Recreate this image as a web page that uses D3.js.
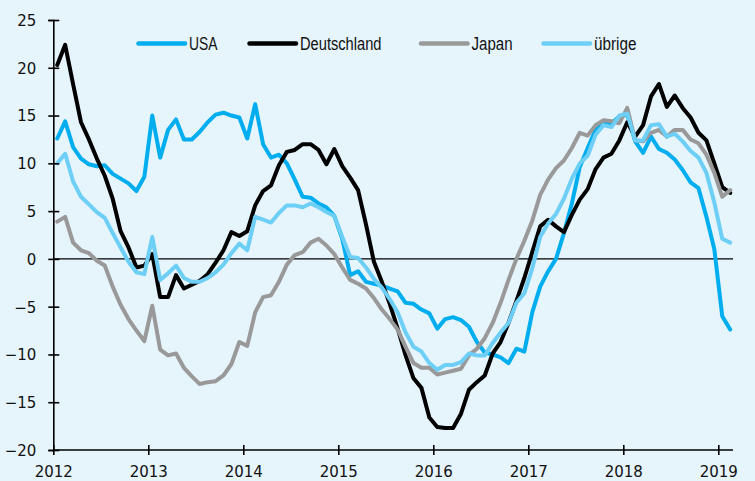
<!DOCTYPE html>
<html>
<head>
<meta charset="utf-8">
<script src="https://cdn.jsdelivr.net/npm/d3@7"></script>
<style>
  html, body { margin: 0; padding: 0; background: #e6f4fc; }
  svg { display: block; }
  .tick text { font-family: "DejaVu Sans", sans-serif; font-size: 15px; fill: #111; }
  .legend text { font-family: "Liberation Sans", Arial, sans-serif; font-size: 17.5px; fill: #111; }
</style>
</head>
<body>
<script>
// Monthly data, Jan 2012 .. Feb 2019 (86 months)
const startYear = 2012;
const seriesNames = ["USA", "Deutschland", "Japan", "übrige"];
const usa = [12.6,14.4,11.7,10.5,9.9,9.7,9.8,8.9,8.4,7.9,7.1,8.6,
  15.0,10.6,13.5,14.6,12.5,12.5,13.3,14.3,15.1,15.3,15.0,14.8,
  12.6,16.2,12.0,10.6,10.9,10.0,8.3,6.5,6.4,5.8,5.4,4.5,
  2.1,-1.7,-1.3,-2.4,-2.6,-2.8,-3.1,-3.4,-4.6,-4.7,-5.3,-5.7,
  -7.3,-6.3,-6.1,-6.4,-7.1,-8.7,-9.8,-10.0,-10.3,-10.9,-9.4,-9.7,
  -5.6,-2.9,-1.3,0.0,2.7,5.8,9.6,11.6,13.5,14.2,14.2,14.9,
  15.1,12.3,11.1,12.8,11.5,11.1,10.4,9.3,8.0,7.4,4.4,1.0,
  -6.0,-7.4];
const deutschland = [20.3,22.4,18.3,14.3,12.5,10.5,8.7,6.3,2.9,1.2,-0.9,-0.7,
  0.5,-4.0,-4.0,-1.7,-3.1,-2.7,-2.3,-1.6,-0.4,0.9,2.8,2.4,
  2.9,5.6,7.1,7.7,9.8,11.2,11.4,12.0,12.0,11.4,9.9,11.5,
  9.7,8.5,7.2,3.6,-0.3,-2.4,-4.7,-7.3,-10.1,-12.5,-13.5,-16.6,
  -17.6,-17.7,-17.7,-16.2,-13.7,-12.9,-12.2,-9.9,-8.7,-6.7,-4.4,-2.0,
  0.7,3.4,4.1,3.4,2.8,4.6,6.2,7.3,9.4,10.6,11.0,12.4,
  14.3,12.8,14.0,17.0,18.3,15.9,17.1,15.8,14.8,13.2,12.4,10.0,
  7.5,6.9];
const japan = [3.9,4.4,1.7,0.9,0.6,-0.2,-0.7,-2.9,-4.8,-6.3,-7.5,-8.6,
  -4.9,-9.5,-10.1,-9.9,-11.4,-12.3,-13.1,-12.9,-12.8,-12.2,-11.0,-8.7,
  -9.1,-5.6,-4.0,-3.8,-2.4,-0.6,0.4,0.7,1.7,2.1,1.4,0.5,
  -0.9,-2.2,-2.6,-3.1,-4.1,-5.3,-6.3,-7.4,-9.2,-10.9,-11.4,-11.4,
  -12.1,-11.9,-11.7,-11.5,-10.1,-9.4,-8.3,-6.7,-4.6,-2.2,0.0,1.9,
  4.0,6.7,8.3,9.5,10.3,11.6,13.2,12.9,14.0,14.5,14.4,14.2,
  15.8,12.4,12.3,13.2,13.5,12.8,13.5,13.5,12.5,12.1,10.9,9.0,
  6.5,7.2];
const uebrige = [10.0,11.0,8.1,6.5,5.7,4.9,4.3,2.7,1.2,-0.3,-1.4,-1.6,
  2.3,-2.2,-1.5,-0.7,-2.0,-2.4,-2.4,-2.0,-1.4,-0.6,0.6,1.6,
  0.9,4.4,4.1,3.8,4.8,5.6,5.6,5.4,5.8,5.4,4.9,4.5,
  2.3,0.2,0.1,-0.9,-2.1,-3.0,-4.2,-5.6,-7.7,-9.2,-9.7,-10.9,
  -11.6,-11.1,-11.1,-10.8,-9.9,-10.1,-10.1,-8.8,-7.7,-6.7,-4.6,-3.6,
  -1.0,2.3,3.7,4.7,6.3,8.4,10.0,10.8,13.0,14.0,13.8,15.0,
  15.2,12.4,12.4,14.0,14.1,12.8,13.1,12.3,11.3,10.6,9.0,5.9,
  2.1,1.7];
const yearTicks = [2012, 2013, 2014, 2015, 2016, 2017, 2018, 2019];
const valueTicks = [-20, -15, -10, -5, 0, 5, 10, 15, 20, 25];

const colors = {"USA": "#00aeef", "Deutschland": "#000000", "Japan": "#999999", "übrige": "#6dcff6"};
const dataBySeries = {"USA": usa, "Deutschland": deutschland, "Japan": japan, "übrige": uebrige};

const W = 755, H = 481;
const svg = d3.select("body").append("svg").attr("width", W).attr("height", H);
svg.append("rect").attr("width", W).attr("height", H).attr("fill", "#e6f4fc");

const x0 = 53.3, pxPerYear = 95;
const xEndYear = 2019.155;
const x = d3.scaleLinear().domain([2012, xEndYear]).range([x0, x0 + pxPerYear * (xEndYear - 2012)]);
const y = d3.scaleLinear().domain([-20, 25]).range([450, 20]);

// zero line
svg.append("line").attr("x1", x(2012)).attr("x2", x(xEndYear))
  .attr("y1", y(0)).attr("y2", y(0)).attr("stroke", "#000").attr("stroke-width", 1.2);

// lines
const line = d3.line()
  .x((d, i) => x(startYear + (i + 0.5) / 12))
  .y(d => y(d))
  .curve(d3.curveLinear);

["USA", "Deutschland", "Japan", "übrige"].forEach(name => {
  svg.append("path")
    .datum(dataBySeries[name])
    .attr("fill", "none")
    .attr("stroke", colors[name])
    .attr("stroke-width", 4)
    .attr("stroke-linejoin", "round")
    .attr("stroke-linecap", "round")
    .attr("d", line);
});

// axes
const yAxis = d3.axisLeft(y).tickValues(valueTicks).tickSize(5).tickPadding(12).tickFormat(d3.format("d"));
const gy = svg.append("g").attr("transform", `translate(${x(2012)},0)`).call(yAxis);
gy.select(".domain").attr("stroke", "#000").attr("stroke-width", 1.6);
gy.selectAll(".tick line").attr("x1", 6).attr("x2", -5).attr("stroke", "#000").attr("stroke-width", 1.6);
gy.selectAll(".tick text").attr("x", -17).attr("dy", "0.36em");

const xAxis = d3.axisBottom(x).tickValues(yearTicks).tickSize(5).tickFormat(d3.format("d"));
const gx = svg.append("g").attr("transform", `translate(0,${y(-20)})`).call(xAxis);
gx.select(".domain").attr("d", `M${x(2012)},0H${x(xEndYear)}`).attr("stroke", "#000").attr("stroke-width", 1.6);
gx.selectAll(".tick line").attr("y1", -5).attr("y2", 5).attr("stroke", "#000").attr("stroke-width", 1.6);
gx.selectAll(".tick text").attr("y", 16).attr("dy", "0.71em");

// legend
const legendPos = [
  {name: "USA", x1: 138.5, x2: 185, w: 28.5},
  {name: "Deutschland", x1: 249.5, x2: 296, w: 81.5},
  {name: "Japan", x1: 421, x2: 467.5, w: 41},
  {name: "übrige", x1: 543.5, x2: 590, w: 42.5}
];
const lg = svg.append("g").attr("class", "legend");
legendPos.forEach(p => {
  lg.append("line").attr("x1", p.x1).attr("x2", p.x2).attr("y1", 43.5).attr("y2", 43.5)
    .attr("stroke", colors[p.name]).attr("stroke-width", 4.5).attr("stroke-linecap", "round");
  lg.append("text").attr("x", p.x2 + 4).attr("y", 49.5)
    .attr("textLength", p.w).attr("lengthAdjust", "spacingAndGlyphs").text(p.name);
});
</script>
</body>
</html>
